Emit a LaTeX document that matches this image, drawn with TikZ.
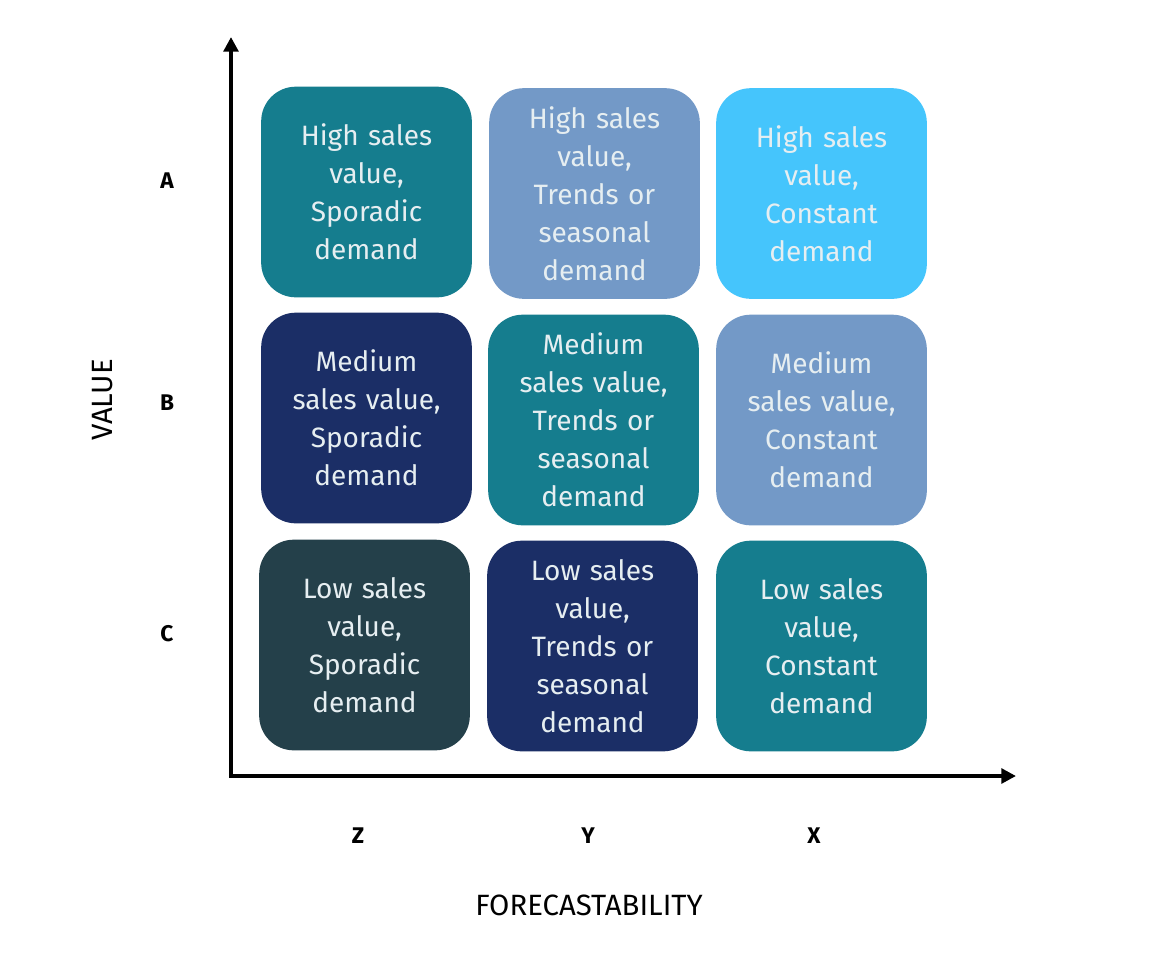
\documentclass[tikz,border=0pt]{standalone}
\usepackage{fontspec}
\setmainfont{Fira Sans}
\usetikzlibrary{arrows.meta}
\definecolor{teal1}{HTML}{157D8E}
\definecolor{blueg}{HTML}{7399C7}
\definecolor{sky}{HTML}{45C5FC}
\definecolor{navy}{HTML}{1B2E66}
\definecolor{slate}{HTML}{24404A}
\definecolor{txt}{HTML}{E6EEF1}
\tikzset{
  cell/.style={rounded corners=26pt, minimum width=158pt, minimum height=158pt, inner sep=0pt,
    text=txt, align=center, font=\fontsize{21}{28.5}\selectfont, text width=156pt},
  axislabel/.style={font=\bfseries\fontsize{17}{19}\selectfont},
  axistitle/.style={font=\fontsize{22}{25}\selectfont},
  axis/.style={line width=3pt, -{Triangle[length=11pt,width=11pt]}}
}
\begin{document}
\begin{tikzpicture}[x=0.75pt,y=-0.75pt]
\useasboundingbox (0,0) rectangle (1160,958);
\fill[white] (0,0) rectangle (1160,958);
% cells
\node[cell, fill=teal1] (az) at (366.5,192) {High sales\\value,\\Sporadic\\demand};
\node[cell, fill=blueg] (ay) at (594.5,193.5) {High sales\\value,\\Trends or\\seasonal\\demand};
\node[cell, fill=sky] (ax) at (821.5,193.5) {High sales\\value,\\Constant\\demand};
\node[cell, fill=navy] (bz) at (366.5,418) {Medium\\sales value,\\Sporadic\\demand};
\node[cell, fill=teal1] (by) at (593.5,420) {Medium\\sales value,\\Trends or\\seasonal\\demand};
\node[cell, fill=blueg] (bx) at (821.5,420) {Medium\\sales value,\\Constant\\demand};
\node[cell, fill=slate] (cz) at (364.5,645) {Low sales\\value,\\Sporadic\\demand};
\node[cell, fill=navy] (cy) at (592.5,646) {Low sales\\value,\\Trends or\\seasonal\\demand};
\node[cell, fill=teal1] (cx) at (821.5,646) {Low sales\\value,\\Constant\\demand};
% axes
\coordinate (o) at (231,776);
\coordinate (ytip) at (231,37);
\coordinate (xtip) at (1016,776);
\draw[axis] (o) -- (ytip);
\draw[axis] ([xshift=-1.5pt]o) -- (xtip);
% labels
\node[axislabel] (la) at (167,181) {A};
\node[axislabel] (lb) at (167,403) {B};
\node[axislabel] (lc) at (167,634) {C};
\node[axislabel] (lz) at (358,836) {Z};
\node[axislabel] (ly) at (588,836) {Y};
\node[axislabel] (lx) at (814,836) {X};
\node[axistitle] (fc) at (589,905) {FORECASTABILITY};
\node[axistitle, rotate=90] (val) at (103,400) {VALUE};
\end{tikzpicture}
\end{document}
